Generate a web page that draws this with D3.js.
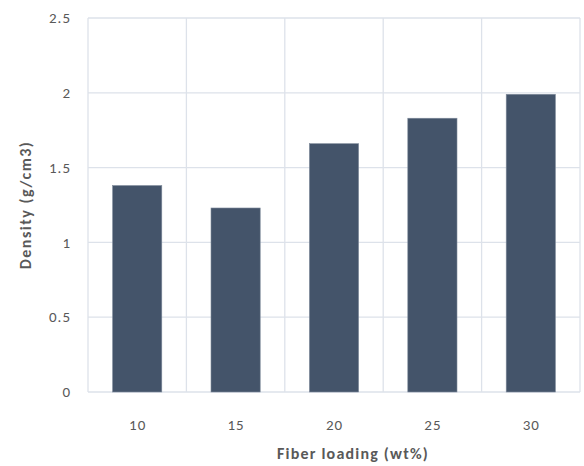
<!DOCTYPE html>
<html><head><meta charset="utf-8">
<script src="https://cdn.jsdelivr.net/npm/d3@7"></script>
<style>body{margin:0;background:#fff}svg{display:block}text{font-family:Carlito,Calibri,Lato,"Open Sans",sans-serif}</style>
</head><body><svg id="c" width="584" height="466"></svg>
<script>
const categories = ["10","15","20","25","30"];
const density = [1.38, 1.23, 1.66, 1.83, 1.99];
const yTicks = [0, 0.5, 1, 1.5, 2, 2.5];
const yTickLabels = ["0","0.5","1","1.5","2","2.5"];

const svg = d3.select("#c");
const L = 88, R = 580, T = 18, B = 392;
const x = d3.scaleBand().domain(categories).range([L, R]).paddingInner(0).paddingOuter(0);
const y = d3.scaleLinear().domain([0, 2.5]).range([B, T]);
const grid = "#dde2ea";

svg.append("g").selectAll("line").data(yTicks).join("line")
  .attr("x1", L).attr("x2", R).attr("y1", d => y(d)).attr("y2", d => y(d))
  .attr("stroke", grid).attr("stroke-width", 1.3);
const bounds = categories.map(c => x(c)).concat([R]);
svg.append("g").selectAll("line").data(bounds).join("line")
  .attr("x1", d => d).attr("x2", d => d).attr("y1", T).attr("y2", B)
  .attr("stroke", grid).attr("stroke-width", 1.3);

const bw = x.bandwidth() * 0.5;
svg.append("g").selectAll("rect").data(density).join("rect")
  .attr("x", (d, i) => x(categories[i]) + (x.bandwidth() - bw) / 2)
  .attr("width", bw)
  .attr("y", d => y(d)).attr("height", d => B - y(d))
  .attr("fill", "#44546a").attr("stroke", "#7f8a9a").attr("stroke-width", 0.6);

svg.append("g").selectAll("text").data(yTicks).join("text")
  .attr("x", 71).attr("y", d => y(d)).attr("dy", "0.35em")
  .attr("text-anchor", "end").attr("font-size", 15).attr("letter-spacing", 1).attr("fill", "#595959")
  .text((d, i) => yTickLabels[i]);

svg.append("g").selectAll("text").data(categories).join("text")
  .attr("x", d => x(d) + x.bandwidth() / 2 + 0.5).attr("y", 429.5)
  .attr("text-anchor", "middle").attr("font-size", 15).attr("letter-spacing", 1).attr("fill", "#595959")
  .text(d => d);

svg.append("text").attr("x", 353).attr("y", 459).attr("text-anchor", "middle")
  .attr("font-size", 16).attr("font-weight", "bold").attr("letter-spacing", 1.2).attr("fill", "#595959")
  .text("Fiber loading (wt%)");
svg.append("text").attr("transform", "translate(31,205) rotate(-90)")
  .attr("text-anchor", "middle").attr("font-size", 16).attr("font-weight", "bold").attr("letter-spacing", 1.5).attr("fill", "#595959")
  .text("Density (g/cm3)");
</script></body></html>
